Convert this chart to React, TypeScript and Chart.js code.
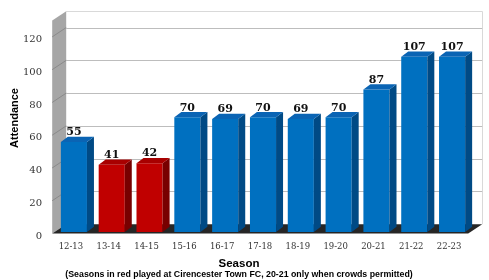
import React, { useEffect, useRef } from "react";
import { Chart, registerables } from "chart.js";

Chart.register(...registerables);

// ---- data ----
const seasons = ["12-13", "13-14", "14-15", "15-16", "16-17", "17-18", "18-19", "19-20", "20-21", "21-22", "22-23"];
const attendance = [55, 41, 42, 70, 69, 70, 69, 70, 87, 107, 107];
const playedAtCirencester = [false, true, true, false, false, false, false, false, false, false, false];
const yTicks = [0, 20, 40, 60, 80, 100, 120];
const yMax = 130;
const yTitle = "Attendance";
const xTitle = "Season";
const note = "(Seasons in red played at Cirencester Town FC, 20-21 only when crowds permitted)";

// ---- styles ----
const BLUE = { front: "#0070C0", side: "#004A85", top: "#0A64B4" };
const RED = { front: "#C00000", side: "#780000", top: "#A80000" };
const F = { x: -2.8, y: 1.5 }; // front plane of floor/wall relative to bar front
const B = { x: 11.2, y: -7.8 }; // back wall relative to bar front
const D = { x: 7, y: -5.2 }; // bar depth

const scenePlugin = {
  id: "scene3d",
  beforeDatasetsDraw(chart: any) {
    const { ctx, chartArea: ca, scales } = chart;
    const y = scales.y;
    const y0 = y.getPixelForValue(0);
    const yt = y.getPixelForValue(yMax);
    const L = ca.left;
    const R = ca.right;
    ctx.save();
    // back wall
    ctx.fillStyle = "#ffffff";
    ctx.fillRect(L + B.x, yt + B.y, R - L, y0 - yt);
    ctx.strokeStyle = "#D9D9D9";
    ctx.lineWidth = 1;
    ctx.beginPath();
    ctx.moveTo(L + B.x, Math.round(yt + B.y) + 0.5);
    ctx.lineTo(Math.round(R + B.x) + 0.5, Math.round(yt + B.y) + 0.5);
    ctx.lineTo(Math.round(R + B.x) + 0.5, y0 + B.y);
    ctx.stroke();
    // back gridlines
    ctx.strokeStyle = "#BDBDBD";
    yTicks.forEach((v) => {
      if (v === 0) return;
      const py = Math.round(y.getPixelForValue(v) + B.y) + 0.5;
      ctx.beginPath();
      ctx.moveTo(L + B.x, py);
      ctx.lineTo(R + B.x, py);
      ctx.stroke();
    });
    // side wall
    ctx.fillStyle = "#A6A6A6";
    ctx.beginPath();
    ctx.moveTo(L + F.x, y0 + F.y);
    ctx.lineTo(L + F.x, yt + F.y);
    ctx.lineTo(L + B.x, yt + B.y);
    ctx.lineTo(L + B.x, y0 + B.y);
    ctx.closePath();
    ctx.fill();
    ctx.strokeStyle = "#8A8A8A";
    yTicks.forEach((v) => {
      if (v === 0) return;
      const py = y.getPixelForValue(v);
      ctx.beginPath();
      ctx.moveTo(L + F.x, py + F.y);
      ctx.lineTo(L + B.x, py + B.y);
      ctx.stroke();
    });
    // floor
    ctx.fillStyle = "#262626";
    ctx.beginPath();
    ctx.moveTo(L + F.x, y0 + F.y);
    ctx.lineTo(R + F.x, y0 + F.y);
    ctx.lineTo(R + B.x, y0 + B.y);
    ctx.lineTo(L + B.x, y0 + B.y);
    ctx.closePath();
    ctx.fill();
    ctx.restore();
  },
  afterDatasetsDraw(chart: any) {
    const { ctx } = chart;
    const meta = chart.getDatasetMeta(0);
    ctx.save();
    meta.data.forEach((el: any, i: number) => {
      const c = playedAtCirencester[i] ? RED : BLUE;
      const half = el.width / 2;
      const left = el.x - half;
      const right = el.x + half;
      const top = el.y;
      const base = el.base;
      // side
      ctx.fillStyle = c.side;
      ctx.beginPath();
      ctx.moveTo(right, top);
      ctx.lineTo(right + D.x, top + D.y);
      ctx.lineTo(right + D.x, base + D.y);
      ctx.lineTo(right, base);
      ctx.closePath();
      ctx.fill();
      // top
      ctx.fillStyle = c.top;
      ctx.beginPath();
      ctx.moveTo(left, top);
      ctx.lineTo(left + D.x, top + D.y);
      ctx.lineTo(right + D.x, top + D.y);
      ctx.lineTo(right, top);
      ctx.closePath();
      ctx.fill();
      // value label
      ctx.fillStyle = "#111111";
      ctx.font = "bold 11px 'DejaVu Serif'";
      ctx.textAlign = "center";
      ctx.textBaseline = "alphabetic";
      ctx.fillText(String(attendance[i]), el.x, top + D.y - 1.5);
    });
    ctx.restore();
  },
  afterDraw(chart: any) {
    const { ctx } = chart;
    ctx.save();
    ctx.fillStyle = "#000000";
    ctx.textAlign = "center";
    ctx.textBaseline = "middle";
    ctx.font = "bold 11px 'Liberation Sans'";
    ctx.save();
    ctx.translate(15, 118);
    ctx.rotate(-Math.PI / 2);
    ctx.fillText(yTitle, 0, 0);
    ctx.restore();
    ctx.font = "bold 11.5px 'Liberation Sans'";
    ctx.fillText(xTitle, 239, 263.5);
    ctx.font = "bold 8.8px 'Liberation Sans'";
    ctx.fillText(note, 239, 275);
    ctx.restore();
  },
};

export default function App() {
  const ref = useRef<HTMLCanvasElement>(null);
  useEffect(() => {
    if (!ref.current) return;
    const chart = new Chart(ref.current, {
      type: "bar",
      data: {
        labels: seasons,
        datasets: [
          {
            data: attendance,
            backgroundColor: playedAtCirencester.map((r) => (r ? RED.front : BLUE.front)),
            borderWidth: 0,
            barPercentage: 0.69,
            categoryPercentage: 1,
          },
        ],
      },
      options: {
        responsive: false,
        animation: false,
        devicePixelRatio: 1,
        layout: { padding: { top: 14, right: 18, left: 0, bottom: 0 } },
        plugins: { legend: { display: false }, tooltip: { enabled: false } },
        scales: {
          x: {
            grid: { display: false, drawTicks: false },
            border: { display: false },
            ticks: {
              font: { family: "DejaVu Serif", size: 8.5 },
              color: "#333333",
              padding: 10,
              labelOffset: -3,
              maxRotation: 0,
              autoSkip: false,
            },
            afterFit: (s: any) => {
              s.height = 48;
            },
          },
          y: {
            min: 0,
            max: yMax,
            grid: { display: false, drawTicks: false },
            border: { display: false },
            ticks: {
              stepSize: 20,
              font: { family: "DejaVu Serif", size: 10 },
              color: "#333333",
              padding: 13,
              labelOffset: 4,
            },
            afterBuildTicks: (s: any) => {
              s.ticks = yTicks.map((v) => ({ value: v }));
            },
            afterFit: (s: any) => {
              s.width = 55;
            },
          },
        },
      },
      plugins: [scenePlugin],
    } as any);
    return () => chart.destroy();
  }, []);
  return (
    <div style={{ position: "fixed", left: 0, top: 0, width: 489, height: 280, background: "#ffffff" }}>
      <canvas ref={ref} width={489} height={280} style={{ display: "block" }} />
    </div>
  );
}
